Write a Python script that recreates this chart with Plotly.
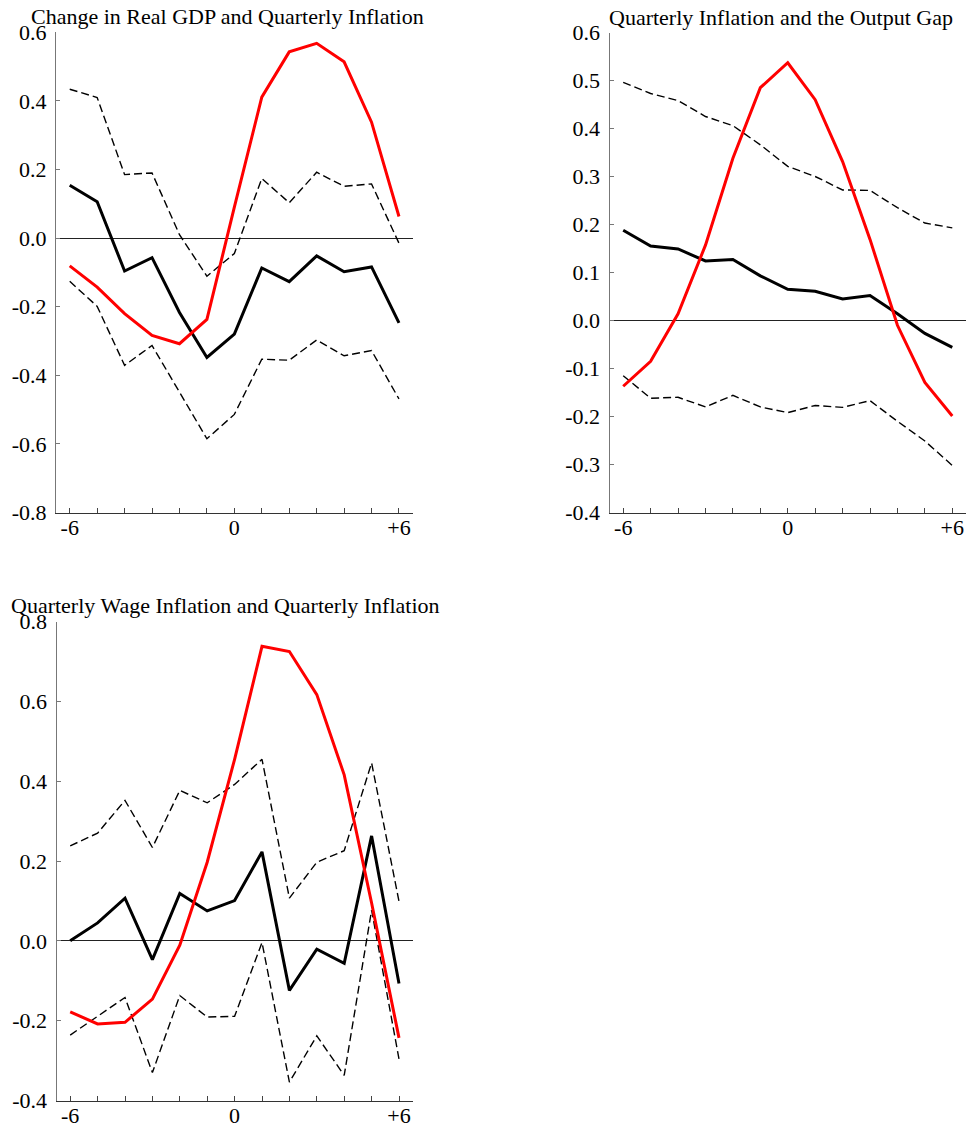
import plotly.graph_objects as go

# Quarters relative to the event date
quarters = [-6, -5, -4, -3, -2, -1, 0, 1, 2, 3, 4, 5, 6]

# Panel 1: change in real GDP vs quarterly inflation
gdp_coef = [0.154, 0.106, -0.096, -0.057, -0.217, -0.348, -0.280, -0.087, -0.127, -0.052, -0.098, -0.084, -0.247]
gdp_upper = [0.434, 0.410, 0.185, 0.190, 0.010, -0.111, -0.045, 0.174, 0.103, 0.192, 0.151, 0.158, -0.015]
gdp_lower = [-0.126, -0.199, -0.371, -0.313, -0.449, -0.585, -0.514, -0.353, -0.356, -0.297, -0.343, -0.328, -0.469]
gdp_infl = [-0.081, -0.143, -0.220, -0.284, -0.308, -0.237, 0.090, 0.411, 0.543, 0.568, 0.514, 0.338, 0.063]

# Panel 2: quarterly inflation vs the output gap
gap_coef = [0.188, 0.155, 0.149, 0.124, 0.127, 0.093, 0.065, 0.061, 0.045, 0.052, 0.014, -0.027, -0.056]
gap_upper = [0.496, 0.473, 0.458, 0.425, 0.406, 0.366, 0.321, 0.300, 0.272, 0.271, 0.235, 0.203, 0.193]
gap_lower = [-0.115, -0.162, -0.160, -0.180, -0.156, -0.180, -0.192, -0.177, -0.181, -0.167, -0.210, -0.251, -0.302]
gap_infl = [-0.137, -0.085, 0.014, 0.157, 0.338, 0.485, 0.537, 0.460, 0.331, 0.169, -0.010, -0.129, -0.199]

# Panel 3: quarterly wage inflation vs quarterly inflation
wage_coef = [0.000, 0.045, 0.107, -0.047, 0.119, 0.075, 0.101, 0.223, -0.124, -0.021, -0.056, 0.263, -0.107]
wage_upper = [0.238, 0.270, 0.352, 0.234, 0.377, 0.346, 0.392, 0.455, 0.107, 0.197, 0.226, 0.446, 0.099]
wage_lower = [-0.236, -0.189, -0.142, -0.330, -0.137, -0.191, -0.189, -0.004, -0.354, -0.238, -0.337, 0.077, -0.296]
wage_infl = [-0.178, -0.208, -0.204, -0.146, -0.011, 0.197, 0.455, 0.738, 0.725, 0.617, 0.416, 0.095, -0.243]

titles = [
    "Change in Real GDP and Quarterly Inflation",
    "Quarterly Inflation and the Output Gap",
    "Quarterly Wage Inflation and Quarterly Inflation",
]

x_labels = {-6: "-6", 0: "0", 6: "+6"}
y_ticks_1 = [-0.8, -0.6, -0.4, -0.2, 0.0, 0.2, 0.4, 0.6]
y_ticks_2 = [-0.4, -0.3, -0.2, -0.1, 0.0, 0.1, 0.2, 0.3, 0.4, 0.5, 0.6]
y_ticks_3 = [-0.4, -0.2, 0.0, 0.2, 0.4, 0.6, 0.8]

FONT = "Liberation Serif, Times New Roman, serif"
TICK_SIZE = 22
TITLE_SIZE = 22
W, H = 974, 1128

panels = [
    dict(series=(gdp_coef, gdp_upper, gdp_lower, gdp_infl), yticks=y_ticks_1,
         xpx=(56, 412.7), ypx=(32.3, 512.5), title_xy=(29, 16)),
    dict(series=(gap_coef, gap_upper, gap_lower, gap_infl), yticks=y_ticks_2,
         xpx=(609.5, 966), ypx=(32.5, 512.5), title_xy=(607, 17)),
    dict(series=(wage_coef, wage_upper, wage_lower, wage_infl), yticks=y_ticks_3,
         xpx=(56.5, 412.7), ypx=(621.6, 1100.5), title_xy=(9, 605)),
]


def fmt(v):
    return f"{v:.1f}"


fig = go.Figure()
layout = dict(
    width=W, height=H,
    margin=dict(l=0, r=0, t=0, b=0, pad=0, autoexpand=False),
    paper_bgcolor="white", plot_bgcolor="white",
    showlegend=False,
    font=dict(family=FONT, size=TICK_SIZE, color="black"),
    annotations=[],
)

for i, p in enumerate(panels, start=1):
    xa = "x" if i == 1 else f"x{i}"
    ya = "y" if i == 1 else f"y{i}"
    coef, upper, lower, infl = p["series"]
    for ys, color, width, dash in [
        (upper, "black", 1.4, "8px,4px"),
        (lower, "black", 1.4, "8px,4px"),
        (coef, "black", 3, "solid"),
        (infl, "#ff0000", 3, "solid"),
    ]:
        fig.add_trace(go.Scatter(
            x=quarters, y=ys, mode="lines", xaxis=xa, yaxis=ya,
            line=dict(color=color, width=width, dash=dash),
            hoverinfo="skip",
        ))

    x0, x1 = p["xpx"]
    y0, y1 = p["ypx"]
    xkey = "xaxis" if i == 1 else f"xaxis{i}"
    ykey = "yaxis" if i == 1 else f"yaxis{i}"
    layout[xkey] = dict(
        domain=[x0 / W, x1 / W], anchor=ya, range=[-6.5, 6.5],
        tickvals=quarters, ticktext=[x_labels.get(q, "") for q in quarters],
        ticks="inside", ticklen=5, tickcolor="#444", tickwidth=1,
        ticklabelstandoff=-5,
        showline=True, linecolor="#333", linewidth=1,
        showgrid=False, zeroline=False, fixedrange=True, automargin=False,
        tickfont=dict(family=FONT, size=TICK_SIZE, color="black"),
    )
    yt = p["yticks"]
    layout[ykey] = dict(
        domain=[1 - y1 / H, 1 - y0 / H], anchor=xa, range=[yt[0], yt[-1]],
        tickvals=yt, ticktext=[fmt(v) for v in yt],
        ticks="inside", ticklen=4, tickcolor="#777", tickwidth=1,
        ticklabelstandoff=4,
        showline=True, linecolor="#777", linewidth=1,
        showgrid=False, zeroline=True, zerolinecolor="#222", zerolinewidth=1,
        fixedrange=True, automargin=False,
        tickfont=dict(family=FONT, size=TICK_SIZE, color="black"),
    )
    tx, ty = p["title_xy"]
    layout["annotations"].append(dict(
        text=titles[i - 1], xref="paper", yref="paper",
        x=tx / W, y=1 - ty / H, xanchor="left", yanchor="middle",
        showarrow=False, font=dict(family=FONT, size=TITLE_SIZE, color="black"),
    ))

fig.update_layout(**layout)
fig.write_html("out.html")
